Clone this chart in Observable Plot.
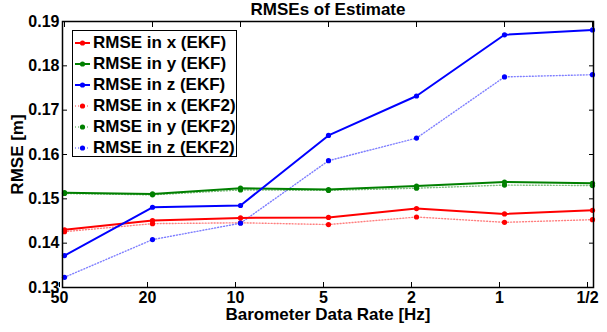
<!DOCTYPE html>
<html>
<head>
<meta charset="utf-8">
<script src="https://cdn.jsdelivr.net/npm/d3@7"></script>
<script src="https://cdn.jsdelivr.net/npm/@observablehq/plot@0.6"></script>
<style>
  html, body { margin: 0; padding: 0; background: #fff; }
  #wrap { position: relative; width: 607px; height: 332px; }
  #legend {
    position: absolute; left: 72px; top: 30px; width: 165px; height: 127px;
    box-sizing: border-box; border: 1.3px solid #000; background: #fff;
    font-family: "Liberation Sans", Arial, sans-serif; font-weight: bold; font-size: 17px;
    padding-top: 1px;
  }
  .row { height: 21px; line-height: 21px; display: flex; align-items: center; white-space: nowrap; }
  .row svg { margin-left: 2px; margin-right: 3px; flex: none; }
</style>
</head>
<body>
<div id="wrap"></div>
<script>
const rates = ["50", "20", "10", "5", "2", "1", "1/2"];
const yTicks = [0.13, 0.14, 0.15, 0.16, 0.17, 0.18, 0.19];

const ekfX  = [0.1430, 0.1451, 0.1457, 0.1458, 0.1478, 0.1466, 0.1474];
const ekfY  = [0.1514, 0.1511, 0.1524, 0.1521, 0.1529, 0.1538, 0.1535];
const ekfZ  = [0.1372, 0.1481, 0.1485, 0.1643, 0.1732, 0.1870, 0.1881];
const ekf2X = [0.1426, 0.1444, 0.1446, 0.1442, 0.1459, 0.1447, 0.1453];
const ekf2Y = [0.1512, 0.1509, 0.1520, 0.1519, 0.1524, 0.1531, 0.1530];
const ekf2Z = [0.1323, 0.1408, 0.1445, 0.1586, 0.1637, 0.1775, 0.1780];

const seriesNames = ["RMSE in x (EKF)", "RMSE in y (EKF)", "RMSE in z (EKF)",
                     "RMSE in x (EKF2)", "RMSE in y (EKF2)", "RMSE in z (EKF2)"];
const seriesColors = ["#ff0000", "#008000", "#0000ff", "#ff0000", "#008000", "#0000ff"];
const seriesValues = [ekfX, ekfY, ekfZ, ekf2X, ekf2Y, ekf2Z];

const rows = [];
seriesNames.forEach((name, s) => {
  seriesValues[s].forEach((v, i) => rows.push({series: name, rate: rates[i], value: v, color: seriesColors[s], dotted: s >= 3}));
});
const solid = rows.filter(d => !d.dotted);
const dotted = rows.filter(d => d.dotted);

const chart = Plot.plot({
  width: 607,
  height: 332,
  marginLeft: 62,
  marginRight: 14,
  marginTop: 21,
  marginBottom: 45,
  style: {fontFamily: "Liberation Sans, Arial, sans-serif", fontWeight: "bold", fontSize: "16px", color: "#000", background: "#fff"},
  x: {type: "point", domain: rates, padding: 0},
  y: {domain: [0.13, 0.19]},
  marks: [
    Plot.line(dotted, {x: "rate", y: "value", z: "series", stroke: "color", strokeWidth: 1.4, strokeOpacity: 0.5, strokeDasharray: "1,2"}),
    Plot.line(solid, {x: "rate", y: "value", z: "series", stroke: "color", strokeWidth: 2}),
    Plot.dot(rows, {x: "rate", y: "value", fill: "color", r: 2.6}),
    Plot.frame({stroke: "#000", strokeWidth: 1.5}),
    Plot.axisX({anchor: "bottom", tickSize: -5, tickPadding: 9, dx: -5, label: null}),
    Plot.axisX({anchor: "bottom", ticks: [], tickSize: 0, label: "Barometer Data Rate [Hz]", labelAnchor: "center", labelArrow: "none", labelOffset: 32}),
    Plot.axisX({anchor: "top", tickSize: -5, tickFormat: () => "", label: null}),
    Plot.axisY({anchor: "left", ticks: yTicks, tickSize: -5, tickPadding: 8, tickFormat: d3.format(".2f"), label: "RMSE [m]", labelAnchor: "center", labelArrow: "none", labelOffset: 52}),
    Plot.axisY({anchor: "right", ticks: yTicks, tickSize: -5, tickFormat: () => "", label: null}),
    Plot.text(["RMSEs of Estimate"], {frameAnchor: "top", lineAnchor: "middle", dy: -12, fontSize: 17, fontWeight: "bold"})
  ]
});
chart.querySelectorAll("[aria-label$='axis label'] text, [aria-label$='axis label']").forEach(e => e.setAttribute("font-size", "17"));
const wrap = document.getElementById("wrap");
wrap.appendChild(chart);

const legend = document.createElement("div");
legend.id = "legend";
seriesNames.forEach((name, s) => {
  const row = document.createElement("div");
  row.className = "row";
  const dash = s >= 3 ? 'stroke-dasharray="1,2" stroke-opacity="0.5" stroke-width="1.4"' : 'stroke-width="2"';
  row.innerHTML = `<svg width="15" height="8"><line x1="0" x2="15" y1="4" y2="4" stroke="${seriesColors[s]}" ${dash}></line><circle cx="7.5" cy="4" r="2.6" fill="${seriesColors[s]}"></circle></svg><span>${name}</span>`;
  legend.appendChild(row);
});
wrap.appendChild(legend);
</script>
</body>
</html>
